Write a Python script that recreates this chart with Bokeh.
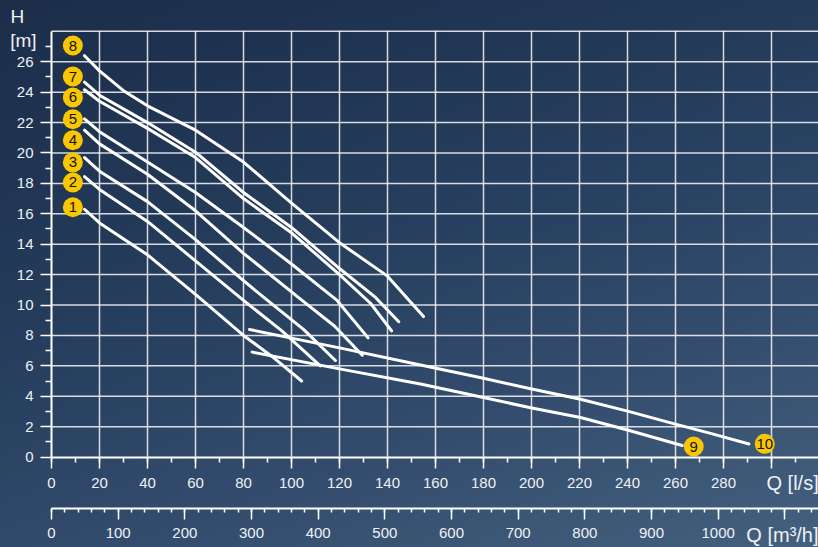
from bokeh.plotting import figure
from bokeh.models import (Range1d, LinearAxis, FixedTicker, SingleIntervalTicker,
                          Label, ColumnDataSource, GlobalInlineStyleSheet)
from bokeh.core.properties import value
from bokeh.embed import file_html
from bokeh.resources import INLINE

# ---- data: pump curves, Q [l/s] vs H [m] ----
q1 = [13.75, 20, 40, 60, 80, 92, 104.2]
h1 = [16.3, 15.4, 13.3, 10.7, 8.0, 6.6, 5.0]
q2 = [13.75, 20, 40, 60, 80, 96, 112]
h2 = [18.45, 17.6, 15.5, 12.9, 10.3, 8.3, 6.0]
q3 = [13.75, 20, 40, 60, 80, 90, 105, 118.3]
h3 = [19.7, 18.8, 16.8, 14.3, 11.6, 10.3, 8.4, 6.35]
q4 = [13.75, 20, 40, 60, 80, 104.4, 118, 129.5]
h4 = [21.5, 20.6, 18.6, 16.2, 13.4, 10.3, 8.6, 6.7]
q5 = [13.75, 20, 40, 60, 80, 100, 119, 131.9]
h5 = [22.25, 21.4, 19.4, 17.4, 15.1, 12.7, 10.3, 7.84]
q6 = [13.75, 20, 40, 60, 80, 100, 120, 133, 141.7]
h6 = [24.16, 23.4, 21.62, 19.7, 17.0, 14.75, 12.0, 10.1, 8.3]
q7 = [13.75, 20, 40, 60, 80, 100, 120, 135, 144.7]
h7 = [24.66, 23.8, 22.0, 20.05, 17.4, 15.1, 12.4, 10.5, 8.9]
q8 = [13.75, 20, 30, 40, 60, 80, 100, 120, 140, 155]
h8 = [26.4, 25.4, 24.1, 23.1, 21.5, 19.4, 16.7, 14.1, 11.9, 9.24]
q9 = [83.6, 120, 153.75, 179.5, 199.6, 220.4, 240, 258, 262.8]
h9 = [6.9, 5.8, 4.8, 3.93, 3.24, 2.6, 1.78, 0.97, 0.76]
q10 = [82.5, 120, 153.75, 179.5, 199.6, 220.4, 240, 258, 275, 290.6]
h10 = [8.39, 7.18, 6.05, 5.2, 4.49, 3.8, 3.02, 2.25, 1.54, 0.86]

curves_q = [q1, q2, q3, q4, q5, q6, q7, q8, q9, q10]
curves_h = [h1, h2, h3, h4, h5, h6, h7, h8, h9, h10]

# curve number badges
badge_text = ["1", "2", "3", "4", "5", "6", "7", "8", "9", "10"]
badge_q = [8.9, 8.9, 8.9, 8.9, 8.9, 8.9, 8.9, 8.9, 267.6, 297.2]
badge_h = [16.43, 18.06, 19.38, 20.84, 22.22, 23.65, 25.03, 27.07, 0.69, 0.87]

# axis ticks / grid positions
y_ticks = list(range(0, 27, 2))
y_minor = list(range(1, 28, 2))
y_grid = list(range(2, 29, 2))
x_grid = list(range(20, 301, 20))
M3H_PER_LS = 3.6
H_TOP = 28

# view window (whole figure is the plotting frame; axes sit at fixed spots)
X_START, X_END = -21.25, 319.58
Y_START, Y_END = -5.95, 30.03
M3H_AXIS_AT = -3.39

FONT = "Liberation Sans"
TXT = "#eef1f5"

p = figure(width=818, height=547, x_range=Range1d(X_START, X_END), y_range=Range1d(Y_START, Y_END),
           output_backend="svg", toolbar_location=None,
           x_axis_location=None, y_axis_location=None, min_border=0)
p.background_fill_color = None
p.border_fill_color = None
p.outline_line_color = None
p.xgrid.visible = False
p.ygrid.visible = False
p.extra_x_ranges = {"m3h": Range1d(X_START * M3H_PER_LS, X_END * M3H_PER_LS)}

p.stylesheets = [GlobalInlineStyleSheet(css=(
    "html{background:#263d5c;} body{background:linear-gradient(160deg,#1b2d49 0%,#233a59 35%,"
    "#334c6d 70%,#45607f 100%);min-height:100vh;}"))]

# grid lines limited to the chart area (0..X_END, 0..H_TOP)
vsrc = ColumnDataSource(dict(x=x_grid, y0=[0] * len(x_grid), y1=[H_TOP] * len(x_grid)))
hsrc = ColumnDataSource(dict(y=y_grid, x0=[0] * len(y_grid), x1=[X_END] * len(y_grid)))
p.segment(x0="x", y0="y0", x1="x", y1="y1", source=vsrc,
          line_color="#ffffff", line_alpha=0.82, line_width=1.5)
p.segment(x0="x0", y0="y", x1="x1", y1="y", source=hsrc,
          line_color="#ffffff", line_alpha=0.82, line_width=1.5)


def style_axis(ax, tick_out, minor_out, standoff):
    ax.axis_line_color = "white"
    ax.axis_line_width = 2
    ax.major_tick_line_color = "white"
    ax.major_tick_line_width = 1.5
    ax.minor_tick_line_color = "white"
    ax.minor_tick_line_width = 1.5
    ax.major_tick_in = 0
    ax.minor_tick_in = 0
    ax.major_tick_out = tick_out
    ax.minor_tick_out = minor_out
    ax.major_label_standoff = standoff
    ax.major_label_text_color = TXT
    ax.major_label_text_font = FONT
    ax.major_label_text_font_size = "15px"


xa = LinearAxis(ticker=SingleIntervalTicker(interval=20, num_minor_ticks=2),
                fixed_location=0, bounds=(0, X_END))
style_axis(xa, 11, 5, 10)
xa.major_label_overrides = {300: ""}
p.add_layout(xa, "below")

xa2 = LinearAxis(x_range_name="m3h", ticker=SingleIntervalTicker(interval=100, num_minor_ticks=5),
                 fixed_location=M3H_AXIS_AT, bounds=(0, X_END * M3H_PER_LS))
style_axis(xa2, 11, 4, 8)
xa2.major_label_overrides = {1100: ""}
p.add_layout(xa2, "below")

ya = LinearAxis(ticker=FixedTicker(ticks=y_ticks, minor_ticks=y_minor),
                fixed_location=0, bounds=(0, H_TOP))
style_axis(ya, 11, 6, 7)
p.add_layout(ya, "left")

# curves
for qs, hs in zip(curves_q, curves_h):
    p.line(qs, hs, line_color="white", line_width=3, line_cap="round", line_join="round")

src = ColumnDataSource(dict(q=badge_q, h=badge_h, t=badge_text))
p.scatter("q", "h", source=src, size=20, fill_color="#f9c700", line_color=None)
p.text("q", "h", text="t", source=src, text_align="center", text_baseline="middle",
       text_font=value(FONT), text_font_size="15px", text_color="#111111")

# axis titles
for txt, x, y, size, align in [("Q [l/s]", 297.9, -1.74, "20px", "left"),
                               ("Q [m³/h]", 289.5, -5.1, "20px", "left"),
                               ("H", -14.2, 29.0, "19px", "center"),
                               ("[m]", -11.7, 27.4, "19px", "center")]:
    p.add_layout(Label(x=x, y=y, text=txt, text_align=align, text_baseline="middle",
                       text_font=FONT, text_font_size=size, text_color=TXT))

open("out.html", "w").write(file_html(p, INLINE))
